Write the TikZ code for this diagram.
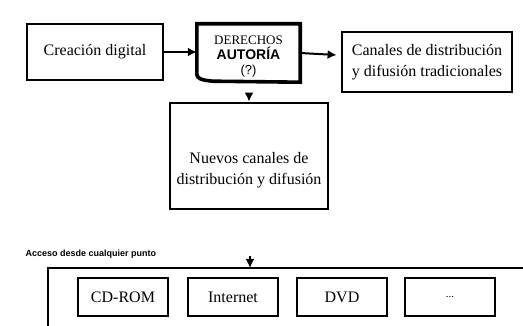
\documentclass[tikz,border=0pt]{standalone}
\usepackage{fontspec}
\setmainfont{Liberation Serif}
\setsansfont{Liberation Sans}
\usetikzlibrary{shapes,arrows.meta,calc}

\begin{document}
\begin{tikzpicture}[x=1pt, y=-1pt, >={Latex[length=9pt,width=9pt]}, font=\fontsize{16}{21}\selectfont,
  box/.style={draw, line width=2.8pt, align=center, inner sep=0pt},
  media/.style={draw, line width=2.2pt, minimum width=90pt, minimum height=38pt, inner sep=0pt},
  link/.style={->, line width=2pt}]

\useasboundingbox (0,0) rectangle (523,326);

\node[box, minimum width=136pt, minimum height=56pt] at (95, 52) (Crea) {Creación digital};

\node[inner sep=0pt, minimum width=103pt, minimum height=58pt] at (248.5, 53) (Der) {};
\node[align=center, inner sep=0pt, yshift=-4pt, font=\fontsize{13}{15}\selectfont] at (Der.center) (DerTxt)
  {DERECHOS\\ \textsf{\bfseries\fontsize{14}{15}\selectfont AUTORÍA}\\ \textsf{(?)}};
\draw[line width=3.6pt] ($(Der.south west)+(0,-8)$) -- (Der.north west) -- (Der.north east)
  -- (Der.south east) -- ($(Der.south west)+(16,-1)$)
  .. controls ($(Der.south west)+(4,-2)$) and ($(Der.south west)+(0,-4)$) .. cycle;

\node[box, minimum width=170pt, minimum height=60pt] at (427, 62) (Canales)
  {Canales de distribución\\y difusión tradicionales};

\draw[link] (Crea.east) -- (Crea.east -| Der.west);
\draw[link] (Der.east) -- ($(Canales.west)+(-4,-7)$);

\node[box, minimum width=158pt, minimum height=106pt] at (249, 156) (Nuevos) {};
\node[align=center, yshift=-14pt] at (Nuevos.center) (NuevosTxt)
  {Nuevos canales de\\distribución y difusión};
\coordinate (ArrN) at (249, 93);
\draw[link] (ArrN) -- (Nuevos.north);

\node[anchor=west, font=\sffamily\bfseries\fontsize{9}{11}\selectfont] at (22, 254) (Acceso)
  {Acceso desde cualquier punto};

\coordinate (FrTL) at (48, 268);
\coordinate (FrTR) at (523, 268);
\coordinate (FrBL) at (48, 326);
\draw[line width=2.4pt] (FrTR) -- (FrTL) -- (FrBL);
\coordinate (ArrF) at (250, 256);
\draw[link] (ArrF) -- (ArrF |- FrTL);

\node[media] at (123, 297) (Cdrom) {CD-ROM};
\node[media] at (233, 297) (Internet) {Internet};
\node[media] at (342, 297) (Dvd) {DVD};
\node[media, font=\fontsize{11}{12}\selectfont] at (450, 297) (Otros) {...};

\end{tikzpicture}
\end{document}
